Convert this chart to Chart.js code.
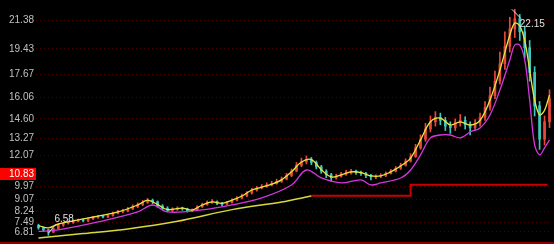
<!DOCTYPE html>
<html>
<head>
<meta charset="utf-8">
<script src="https://cdn.jsdelivr.net/npm/chart.js@4"></script>
<style>
  html, body { margin: 0; padding: 0; background: #000; }
  canvas { display: block; background: #000; }
</style>
</head>
<body>
<canvas id="myChart" width="554" height="244"></canvas>
<script>
//Price tick labels on the left axis (10.83 is the highlighted last price)
let tickValues = [21.38, 19.43, 17.67, 16.06, 14.60, 13.27, 12.07, 10.83, 9.97, 9.07, 8.24, 7.49, 6.81];
let lastPrice = 10.83;

//Daily candles (one bar per trading step)
let opens = [7.25, 7.10, 6.95, 6.80, 7.05, 7.28, 7.42, 7.45, 7.55, 7.65,
  7.58, 7.72, 7.82, 7.90, 7.85, 7.95, 8.10, 8.20, 8.25, 8.40,
  8.55, 8.70, 8.85, 9.00, 8.90, 8.60, 8.45, 8.30, 8.38, 8.45,
  8.40, 8.28, 8.32, 8.55, 8.70, 8.85, 8.90, 8.78, 8.72, 8.85,
  9.00, 9.15, 9.30, 9.50, 9.70, 9.85, 9.95, 10.05, 10.15, 10.30,
  10.45, 10.70, 11.00, 11.40, 11.65, 11.80, 11.60, 11.30, 11.00, 10.75,
  10.55, 10.65, 10.80, 10.90, 11.00, 10.92, 10.85, 10.70, 10.60, 10.65,
  10.70, 10.85, 11.00, 11.20, 11.40, 11.70, 12.00, 12.60, 13.20, 13.90,
  14.40, 14.70, 14.50, 14.10, 14.00, 14.35, 14.50, 14.20, 14.00, 14.30,
  14.70, 15.40, 16.20, 17.20, 18.40, 19.60, 20.80, 21.50, 20.60, 19.50,
  17.80, 15.50, 13.20, 14.40];
let closes = [7.10, 6.95, 6.80, 7.05, 7.30, 7.40, 7.45, 7.55, 7.62, 7.58,
  7.72, 7.80, 7.88, 7.85, 7.95, 8.10, 8.18, 8.25, 8.40, 8.55,
  8.70, 8.85, 9.00, 8.90, 8.60, 8.45, 8.30, 8.38, 8.45, 8.40,
  8.28, 8.32, 8.55, 8.70, 8.85, 8.90, 8.78, 8.72, 8.85, 9.00,
  9.15, 9.30, 9.50, 9.70, 9.85, 9.95, 10.05, 10.15, 10.30, 10.45,
  10.70, 11.00, 11.40, 11.65, 11.80, 11.60, 11.30, 11.00, 10.75, 10.55,
  10.65, 10.80, 10.90, 11.00, 10.92, 10.85, 10.70, 10.60, 10.65, 10.70,
  10.85, 11.00, 11.20, 11.40, 11.70, 12.00, 12.60, 13.20, 13.90, 14.40,
  14.70, 14.50, 14.10, 14.00, 14.35, 14.50, 14.20, 14.00, 14.30, 14.70,
  15.40, 16.20, 17.20, 18.40, 19.60, 20.80, 21.50, 20.60, 19.50, 17.80,
  15.50, 13.20, 14.40, 16.00];
let highs = [7.35, 7.15, 7.00, 7.10, 7.35, 7.48, 7.55, 7.62, 7.70, 7.72,
  7.78, 7.88, 7.95, 7.98, 8.02, 8.18, 8.30, 8.38, 8.50, 8.68,
  8.82, 8.98, 9.12, 9.08, 8.95, 8.70, 8.55, 8.48, 8.55, 8.52,
  8.45, 8.40, 8.62, 8.80, 8.95, 9.05, 8.95, 8.85, 8.92, 9.10,
  9.25, 9.42, 9.60, 9.82, 9.95, 10.08, 10.20, 10.30, 10.45, 10.60,
  10.85, 11.15, 11.60, 11.90, 12.05, 11.95, 11.70, 11.40, 11.10, 10.85,
  10.78, 10.92, 11.05, 11.12, 11.08, 11.00, 10.92, 10.78, 10.75, 10.82,
  10.95, 11.12, 11.32, 11.55, 11.85, 12.20, 12.85, 13.50, 14.30, 14.80,
  15.10, 15.00, 14.70, 14.40, 14.60, 14.90, 14.75, 14.40, 14.55, 15.00,
  15.80, 16.80, 17.90, 19.20, 20.60, 21.60, 22.15, 21.80, 21.00, 20.00,
  18.20, 15.80, 14.80, 16.60];
let lows = [7.00, 6.85, 6.58, 6.75, 7.00, 7.20, 7.35, 7.40, 7.50, 7.50,
  7.52, 7.66, 7.75, 7.78, 7.80, 7.90, 8.05, 8.12, 8.20, 8.35,
  8.48, 8.62, 8.78, 8.75, 8.52, 8.35, 8.20, 8.22, 8.30, 8.30,
  8.18, 8.20, 8.28, 8.50, 8.65, 8.78, 8.70, 8.62, 8.66, 8.80,
  8.95, 9.08, 9.25, 9.42, 9.62, 9.78, 9.88, 9.98, 10.10, 10.22,
  10.40, 10.62, 10.95, 11.30, 11.50, 11.45, 11.15, 10.85, 10.55, 10.30,
  10.45, 10.58, 10.70, 10.80, 10.78, 10.70, 10.55, 10.40, 10.48, 10.55,
  10.62, 10.80, 10.95, 11.12, 11.35, 11.62, 11.95, 12.50, 13.05, 13.70,
  14.10, 14.20, 13.80, 13.60, 13.80, 14.10, 13.90, 13.50, 13.80, 14.10,
  14.50, 15.20, 16.00, 17.00, 18.00, 19.20, 20.20, 20.00, 18.80, 17.20,
  14.80, 12.50, 12.80, 14.00];

//Moving average lines: [bar index, value]
let maShortIdx = [0, 2, 4, 8, 12, 16, 20, 22, 24, 26, 29, 31, 33, 35, 37, 39, 41, 43, 45, 47, 49, 51, 53, 55, 57, 59, 61, 63, 65, 67, 69, 71, 73, 75, 77, 79, 81, 83, 85, 87, 89, 91, 93, 95, 96, 97, 98, 99, 100, 101, 102, 103];
let maShortVal = [7.25, 7.10, 7.36, 7.64, 7.90, 8.19, 8.67, 9.00, 8.70, 8.35, 8.46, 8.32, 8.67, 8.88, 8.78, 9.00, 9.29, 9.70, 9.90, 10.10, 10.40, 10.95, 11.63, 11.80, 11.10, 10.60, 10.75, 10.95, 10.90, 10.67, 10.67, 10.95, 11.35, 11.90, 13.15, 14.40, 14.66, 14.18, 14.40, 14.18, 14.50, 15.90, 17.97, 20.38, 21.20, 21.00, 20.00, 17.97, 15.90, 14.87, 15.20, 16.25];
let maMidIdx = [0, 4, 12, 20, 23, 26, 33, 39, 45, 51, 54, 57, 61, 65, 67, 69, 73, 75, 77, 79, 81, 83, 85, 87, 89, 91, 93, 95, 96, 97, 98, 99, 100, 101, 102, 103];
let maMidVal = [6.85, 6.95, 7.50, 8.19, 8.67, 8.19, 8.33, 8.67, 9.16, 10.05, 11.08, 10.53, 10.19, 10.40, 10.05, 10.19, 10.53, 11.08, 12.12, 13.29, 13.49, 13.49, 13.29, 13.70, 13.98, 14.87, 16.59, 18.66, 19.69, 19.69, 18.66, 15.90, 12.81, 12.12, 12.60, 13.15];
let maLongIdx = [0, 9, 18, 28, 39, 49, 55];
let maLongVal = [6.40, 6.70, 7.02, 7.55, 8.35, 8.88, 9.29];
//Red stop line
let stopIdx = [55, 75, 75, 102.6];
let stopVal = [9.31, 9.31, 10.07, 10.07];

let upColor = '#e8483c', downColor = '#3cc8c0';

function toPoints(xs, ys) {
  return xs.map((x, i) => ({x: x, y: ys[i]}));
}
function candleColor(c) {
  return closes[c.dataIndex] >= opens[c.dataIndex] ? upColor : downColor;
}

let wicks = lows.map((l, i) => ({x: i, y: [l, highs[i]]}));
let bodies = opens.map((o, i) => ({x: i, y: [o, closes[i]]}));

//Draws the red price box, the bottom rule and the high/low notes
let decorPlugin = {
  id: 'decor',
  beforeDatasetsDraw(chart) {
    let c = chart.ctx, y = chart.scales.y;
    let py = Math.round(y.getPixelForValue(lastPrice));
    c.save();
    c.fillStyle = '#ff0000';
    c.fillRect(0, py - 6, 36, 12);
    c.fillStyle = '#ffffff';
    c.font = '10px "Liberation Sans"';
    c.textAlign = 'right';
    c.textBaseline = 'middle';
    c.fillText(lastPrice.toFixed(2), 34, py);
    c.restore();
  },
  afterDraw(chart) {
    let c = chart.ctx, x = chart.scales.x, y = chart.scales.y;
    c.save();
    c.strokeStyle = '#8a0000';
    c.lineWidth = 2;
    c.beginPath();
    c.moveTo(0, chart.chartArea.bottom + 1);
    c.lineTo(chart.width, chart.chartArea.bottom + 1);
    c.stroke();

    c.strokeStyle = '#e0e0e0';
    c.fillStyle = '#e0e0e0';
    c.lineWidth = 1;
    c.font = '10px "Liberation Sans"';
    c.textBaseline = 'middle';
    //low note
    let li = lows.indexOf(Math.min(...lows));
    let lx = x.getPixelForValue(li), ly = y.getPixelForValue(lows[li]);
    c.beginPath();
    c.moveTo(lx, ly - 2);
    c.lineTo(lx + 7, ly - 11);
    c.stroke();
    c.fillText(lows[li].toFixed(2), lx + 6, ly - 16);
    //high note
    let hi = highs.indexOf(Math.max(...highs));
    let hx = x.getPixelForValue(hi), hy = y.getPixelForValue(highs[hi]);
    c.beginPath();
    c.moveTo(hx - 3, hy);
    c.lineTo(hx + 6, hy + 9);
    c.stroke();
    c.fillText(highs[hi].toFixed(2), hx + 5, hy + 15);
    c.restore();
  }
};

let ctx = document.getElementById('myChart').getContext('2d');
let myChart = new Chart(ctx, {
  data: {
    datasets: [
      {type: 'line', data: toPoints(maShortIdx, maShortVal), borderColor: '#e6e640', borderWidth: 1.3, pointRadius: 0, tension: 0.35, order: 0},
      {type: 'line', data: toPoints(maMidIdx, maMidVal), borderColor: '#d436e0', borderWidth: 1.3, pointRadius: 0, tension: 0.35, order: 0},
      {type: 'line', data: toPoints(maLongIdx, maLongVal), borderColor: '#d8d83c', borderWidth: 1.5, pointRadius: 0, tension: 0.3, order: 0},
      {type: 'line', data: toPoints(stopIdx, stopVal), borderColor: '#c80000', borderWidth: 2, pointRadius: 0, tension: 0, order: 0},
      {type: 'bar', data: bodies, backgroundColor: candleColor, barThickness: 2, minBarLength: 1, grouped: false, order: 1},
      {type: 'bar', data: wicks, backgroundColor: candleColor, barThickness: 1, grouped: false, order: 2}
    ]
  },
  options: {
    responsive: false,
    devicePixelRatio: 1,
    animation: false,
    layout: {padding: {left: 0, right: 2, top: 0, bottom: 2}},
    plugins: {legend: {display: false}, tooltip: {enabled: false}},
    scales: {
      x: {type: 'linear', min: -0.5, max: 103.5, offset: false, display: false},
      y: {
        type: 'linear',
        position: 'left',
        min: 6.12,
        max: 22.79,
        afterBuildTicks: (scale) => { scale.ticks = tickValues.map(v => ({value: v})); },
        afterFit: (scale) => { scale.width = 36; scale.paddingTop = 0; scale.paddingBottom = 0; },
        border: {display: false, dash: [1, 3]},
        grid: {color: 'rgba(120, 0, 0, 0.6)', drawTicks: false},
        ticks: {
          padding: 2,
          color: (c) => c.tick && c.tick.value === lastPrice ? 'rgba(0,0,0,0)' : '#c0c0c0',
          font: {family: 'Liberation Sans', size: 10},
          callback: (v) => Number(v).toFixed(2)
        }
      }
    }
  },
  plugins: [decorPlugin]
});
</script>
</body>
</html>
